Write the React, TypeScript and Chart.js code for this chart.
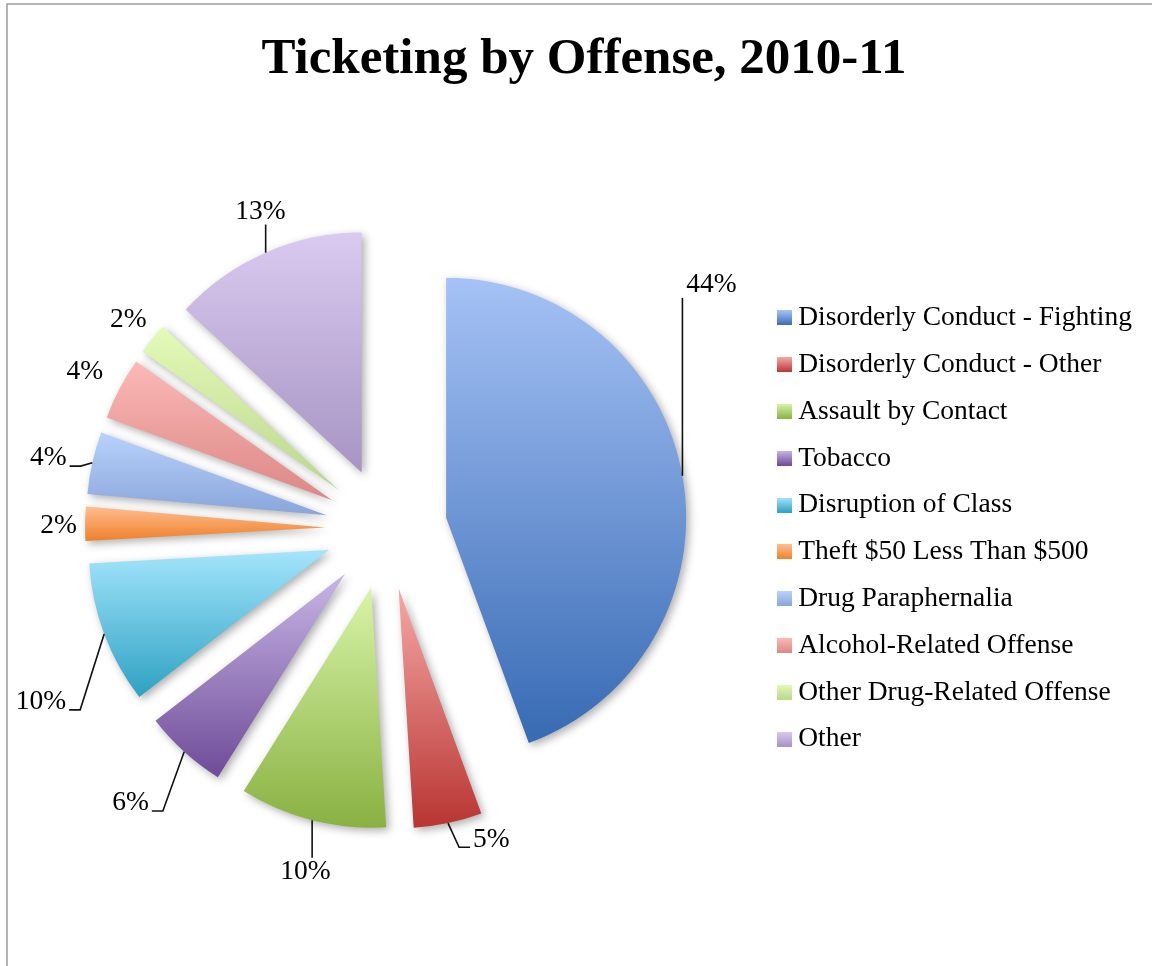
import React, { useEffect, useRef } from "react";
import { Chart, registerables } from "chart.js";

Chart.register(...registerables);

// ---------- data ----------
const TITLE = "Ticketing by Offense, 2010-11";
const categories = [
  "Disorderly Conduct - Fighting",
  "Disorderly Conduct - Other",
  "Assault by Contact",
  "Tobacco",
  "Disruption of Class",
  "Theft $50 Less Than $500",
  "Drug Paraphernalia",
  "Alcohol-Related Offense",
  "Other Drug-Related Offense",
  "Other",
];
const shares = [44.4, 4.6, 9.9, 5.6, 9.6, 2.3, 4.2, 4.2, 2.1, 13.1];

// ---------- styles ----------
const topColors = [
  "#A6C2F6", "#F6A8A6", "#D8F4A8", "#C8B6E6", "#A4E5FC",
  "#FFBE90", "#B9D2FC", "#FBB9B7", "#E5FAB9", "#DACAF0",
];
const bottomColors = [
  "#376AB3", "#B83532", "#89B142", "#6E4B98", "#2EA1C3",
  "#EF7F2A", "#89A5DA", "#DC8785", "#BAD78C", "#A794C3",
];
// label placement: distance beyond the rim (px) and angular nudge (deg)
const labelOffset = [113, 27.7, 51.5, 74, 85.6, 26.5, 44, 38.6, 31, 40];
const labelTurn = [-31.2, -8.4, -1.2, 1, -7.3, -0.6, -1, -0.3, 0, 2.4];

const RADIUS = 240;
const EXPLODE = 61;
const SERIF = '"Liberation Serif", "Times New Roman", serif';
const LABEL_SIZE = 27.5;

const total = shares.reduce((a, b) => a + b, 0);
const percentLabels = shares.map((v) => Math.round((v / total) * 100) + "%");

function sliceExtent(area: any, i: number) {
  let before = 0;
  for (let j = 0; j < i; j++) before += shares[j];
  const start = -Math.PI / 2 + (2 * Math.PI * before) / total;
  const end = start + (2 * Math.PI * shares[i]) / total;
  const mid = (start + end) / 2;
  const cx = (area.left + area.right) / 2 + Math.cos(mid) * EXPLODE;
  const cy = (area.top + area.bottom) / 2 + Math.sin(mid) * EXPLODE;
  let ymin = cy;
  let ymax = cy;
  for (let k = 0; k <= 64; k++) {
    const a = start + ((end - start) * k) / 64;
    const y = cy + Math.sin(a) * RADIUS;
    ymin = Math.min(ymin, y);
    ymax = Math.max(ymax, y);
  }
  return { ymin, ymax };
}

function makeSwatch(top: string, bottom: string) {
  const c = document.createElement("canvas");
  c.width = 15;
  c.height = 15;
  const g = c.getContext("2d")!;
  const grad = g.createLinearGradient(0, 0, 0, 15);
  grad.addColorStop(0, top);
  grad.addColorStop(1, bottom);
  g.fillStyle = grad;
  g.fillRect(0, 0, 15, 15);
  return c;
}

const framePlugin = {
  id: "frame",
  beforeDraw(chart: any) {
    const ctx = chart.ctx;
    ctx.save();
    ctx.fillStyle = "#ffffff";
    ctx.fillRect(0, 0, chart.width, chart.height);
    ctx.strokeStyle = "#9c9c9c";
    ctx.lineWidth = 1.5;
    ctx.beginPath();
    ctx.moveTo(7, chart.height);
    ctx.lineTo(7, 4);
    ctx.lineTo(chart.width, 4);
    ctx.stroke();
    ctx.restore();
  },
  afterDraw(chart: any) {
    const ctx = chart.ctx;
    ctx.save();
    ctx.font = `bold 51px ${SERIF}`;
    ctx.fillStyle = "#000";
    ctx.textAlign = "center";
    ctx.textBaseline = "alphabetic";
    ctx.fillText(TITLE, 584, 73);
    ctx.restore();
  },
};

const pieDecor = {
  id: "pieDecor",
  beforeDatasetsDraw(chart: any) {
    const area = chart.chartArea;
    const cx = (area.left + area.right) / 2;
    const cy = (area.top + area.bottom) / 2;
    chart.getDatasetMeta(0).data.forEach((arc: any) => {
      const mid = (arc.startAngle + arc.endAngle) / 2;
      arc.x = cx + Math.cos(mid) * EXPLODE;
      arc.y = cy + Math.sin(mid) * EXPLODE;
    });
    const ctx = chart.ctx;
    ctx.save();
    ctx.shadowColor = "rgba(0,0,0,0.32)";
    ctx.shadowBlur = 8;
    ctx.shadowOffsetX = 3;
    ctx.shadowOffsetY = 3;
  },
  afterDatasetsDraw(chart: any) {
    const ctx = chart.ctx;
    ctx.restore();
    ctx.save();
    ctx.font = `${LABEL_SIZE}px ${SERIF}`;
    ctx.fillStyle = "#000";
    ctx.strokeStyle = "#111";
    ctx.lineWidth = 1.6;
    ctx.textAlign = "center";
    ctx.textBaseline = "middle";
    chart.getDatasetMeta(0).data.forEach((arc: any, i: number) => {
      const mid = (arc.startAngle + arc.endAngle) / 2;
      const px = arc.x + Math.cos(mid) * RADIUS;
      const py = arc.y + Math.sin(mid) * RADIUS;
      const ang = mid + (labelTurn[i] * Math.PI) / 180;
      const dist = RADIUS + labelOffset[i];
      const lx = arc.x + Math.cos(ang) * dist;
      const ly = arc.y + Math.sin(ang) * dist;
      const text = percentLabels[i];
      const w = ctx.measureText(text).width;
      const h = 22;
      const box = { l: lx - w / 2, r: lx + w / 2, t: ly - h / 2, b: ly + h / 2 };
      const dx = Math.max(box.l - px, 0, px - box.r);
      const dy = Math.max(box.t - py, 0, py - box.b);
      if (Math.hypot(dx, dy) > 20) {
        ctx.beginPath();
        ctx.moveTo(px, py);
        if (px >= box.l - 12 && px <= box.r + 12) {
          const ey = py > box.b ? box.b + 2 : box.t - 3;
          ctx.lineTo(px, ey);
        } else {
          const leftSide = box.r < px;
          const ex = leftSide ? box.r + 3 : box.l - 3;
          const ey = ly + 8;
          const bx = leftSide ? ex + 11 : ex - 11;
          ctx.lineTo(bx, ey);
          ctx.lineTo(ex, ey);
        }
        ctx.stroke();
      }
      ctx.fillText(text, lx, ly);
    });
    ctx.restore();
  },
};

export default function App() {
  const ref = useRef<HTMLCanvasElement>(null);

  useEffect(() => {
    const canvas = ref.current;
    if (!canvas) return;
    const swatches = topColors.map((t, i) => makeSwatch(t, bottomColors[i]));
    const chart = new Chart(canvas, {
      type: "pie",
      data: {
        labels: categories,
        datasets: [
          {
            data: shares,
            borderWidth: 0,
            backgroundColor: (c: any) => {
              const i = c.dataIndex;
              if (i === undefined) return topColors[0];
              const area = c.chart.chartArea;
              if (!area) return topColors[i];
              const { ymin, ymax } = sliceExtent(area, i);
              const grad = c.chart.ctx.createLinearGradient(0, ymin, 0, ymax);
              grad.addColorStop(0, topColors[i]);
              grad.addColorStop(1, bottomColors[i]);
              return grad;
            },
          } as any,
        ],
      },
      options: {
        responsive: false,
        maintainAspectRatio: false,
        animation: false,
        events: [],
        radius: RADIUS,
        layout: { padding: { top: 100, bottom: 9, left: 7, right: 10 } },
        plugins: {
          title: { display: false },
          tooltip: { enabled: false },
          legend: {
            position: "right",
            align: "center",
            labels: {
              usePointStyle: true,
              pointStyleWidth: 0.01,
              boxHeight: 15,
              padding: 19.3,
              color: "#111",
              font: { family: SERIF, size: 27.5 },
              generateLabels: () =>
                categories.map((c, i) => ({
                  text: c,
                  pointStyle: swatches[i],
                  fillStyle: topColors[i],
                  strokeStyle: "rgba(0,0,0,0)",
                  lineWidth: 0,
                  hidden: false,
                  index: i,
                  datasetIndex: 0,
                })),
            },
          },
        },
      } as any,
      plugins: [framePlugin, pieDecor],
    });
    return () => chart.destroy();
  }, []);

  return (
    <div style={{ position: "absolute", left: 0, top: 0, width: 1152, height: 966, background: "#fff" }}>
      <canvas ref={ref} width={1152} height={966} style={{ display: "block", width: 1152, height: 966 }} />
    </div>
  );
}
